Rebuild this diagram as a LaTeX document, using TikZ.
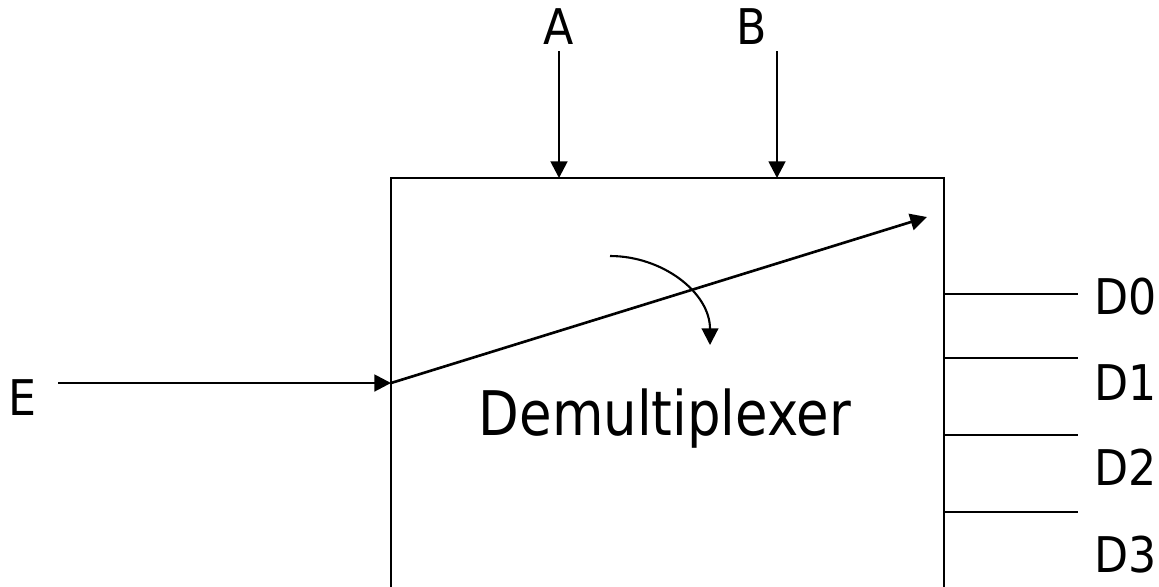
\documentclass[tikz,border=0pt]{standalone}
\usepackage{fontspec}
\setmainfont{DejaVu Sans}[FakeStretch=0.9]
\newfontfamily\titlefont{DejaVu Sans}[FakeStretch=0.86]
\usetikzlibrary{positioning,arrows.meta}

\begin{document}
\begin{tikzpicture}[
    x=0.02cm, y=-0.02cm,
    blk/.style={draw, line width=1.2pt, inner sep=0pt, outer sep=0pt,
                minimum width=11.06cm, minimum height=9.44cm},
    lbl/.style={inner sep=0pt, font=\fontsize{28}{30}\selectfont},
    wire/.style={line width=1.5pt},
    outw/.style={line width=1.2pt},
    >={Triangle[length=9.5pt,width=9.5pt]}
]
\useasboundingbox (0,0) rectangle (1159,586);
\clip (0,0) rectangle (1159,586);

% block
\node[blk] (box) at (667.5,414) {};
\node[anchor=base, inner sep=0pt, font=\titlefont\fontsize{35}{38}\selectfont] (title) at (665,435) {Demultiplexer};

% select and data inputs
\node[lbl, anchor=base] (A) at (559,44) {A};
\node[lbl, anchor=base] (B) at (752,44) {B};
\node[lbl, anchor=base west] (E) at (8,415) {E};

\coordinate (a0) at (559,51);
\coordinate (b0) at (777,51);
\draw[wire,->] (a0) -- (a0 |- box.north);
\draw[wire,->] (b0) -- (b0 |- box.north);

\coordinate (e0) at (58,383);
\coordinate (ein) at (box.west |- e0);
\draw[wire,->] (e0) -- (ein);
\coordinate (sel) at (927,217);
\draw[wire,->] (ein) -- (sel);

\coordinate (c0) at (610,256);
\coordinate (c1) at (710,345);
\draw[outw,->] (c0) to[out=0,in=90] (c1);

% outputs
\foreach \ly/\ty/\i in {294/314/0, 358/400/1, 435/485/2, 512/572/3} {
  \coordinate (o\i) at (1078,\ly);
  \draw[outw] (box.east |- o\i) -- (o\i);
  \node[lbl, anchor=base west] (D\i) at (1094,\ty) {D\i};
}
\end{tikzpicture}
\end{document}
